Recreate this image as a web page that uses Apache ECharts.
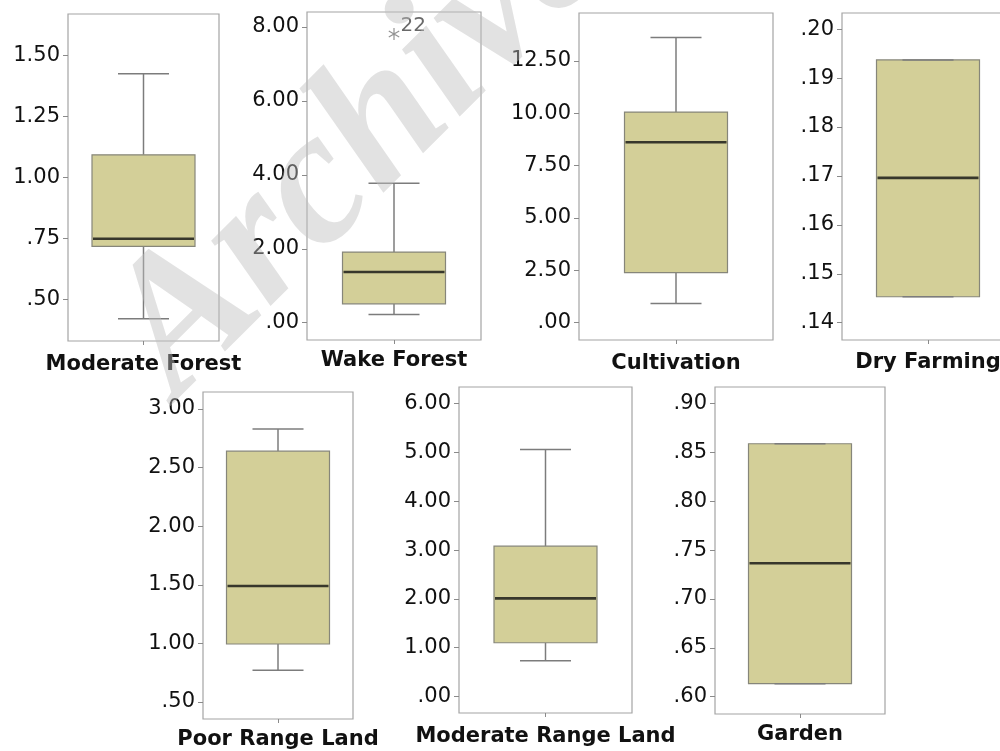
<!DOCTYPE html>
<html><head><meta charset="utf-8">
<script src="https://cdn.jsdelivr.net/npm/echarts@6/dist/echarts.min.js"></script>
<style>html,body{margin:0;padding:0;background:#fff}#c{width:1000px;height:751px}</style>
</head><body><div id="c"></div>
<script>
// ---- data ----
const categories   = ['Moderate Forest', 'Wake Forest', 'Cultivation', 'Dry Farming', 'Poor Range Land', 'Moderate Range Land', 'Garden'];
const whiskerLow   = [0.42, 0.22, 0.91, 0.1453, 0.77, 0.73, 0.6133];
const quartile1    = [0.717, 0.51, 2.39, 0.1453, 0.995, 1.10, 0.6133];
const medians      = [0.748, 1.37, 8.61, 0.1696, 1.49, 2.01, 0.7367];
const quartile3    = [1.092, 1.91, 10.05, 0.1937, 2.64, 3.08, 0.859];
const whiskerHigh  = [1.424, 3.77, 13.61, 0.1937, 2.83, 5.06, 0.859];
const outlierPanel = [1];
const outlierValue = [7.81];
const outlierLabel = ['22'];
const tickValues = [
  [0.50, 0.75, 1.00, 1.25, 1.50],
  [0, 2, 4, 6, 8],
  [0, 2.5, 5, 7.5, 10, 12.5],
  [0.14, 0.15, 0.16, 0.17, 0.18, 0.19, 0.20],
  [0.5, 1.0, 1.5, 2.0, 2.5, 3.0],
  [0, 1, 2, 3, 4, 5, 6],
  [0.60, 0.65, 0.70, 0.75, 0.80, 0.85, 0.90]
];
const axisMin = [0.329, -0.468, -0.826, 0.13646, 0.355, -0.340, 0.5823];
const axisMax = [1.669, 8.406, 14.78, 0.2033, 3.145, 6.342, 0.9171];

// ---- layout & style ----
const panels = [
  {left: 68,  top: 14,  width: 151, height: 327},
  {left: 307, top: 12,  width: 174, height: 328},
  {left: 579, top: 13,  width: 194, height: 327},
  {left: 842, top: 13,  width: 172, height: 327},
  {left: 203, top: 392, width: 150, height: 327},
  {left: 459, top: 387, width: 173, height: 326},
  {left: 715, top: 387, width: 170, height: 327}
];
const labelMargins = [13, 10, 13, 12, 10, 13, 10];
const BOX_W = 103, CAP_W = 51;
const BOX_FILL = '#d3cf98', BOX_STROKE = '#86867a', WHISKER = '#7c7c7c', MEDIAN = '#37372b';
const FRAME = '#a4a4a4', TICK = '#8a8a8a';

function fmt(v) {
  let s = Number(v).toFixed(2);
  if (s.startsWith('0.')) s = s.slice(1);
  return s;
}

function renderBox(params, api) {
  const c = api.value(0);
  const p = k => api.coord([c, api.value(k)]);
  const lo = p(1), b = p(2), m = p(3), t = p(4), hi = p(5);
  const cx = lo[0], hw = BOX_W / 2, cw = CAP_W / 2;
  const ws = {stroke: WHISKER, lineWidth: 1.5};
  return {type: 'group', children: [
    {type: 'line', shape: {x1: cx, y1: t[1], x2: cx, y2: hi[1]}, style: ws},
    {type: 'line', shape: {x1: cx, y1: b[1], x2: cx, y2: lo[1]}, style: ws},
    {type: 'rect', shape: {x: cx - hw, y: t[1], width: BOX_W, height: b[1] - t[1]},
      style: {fill: BOX_FILL, stroke: BOX_STROKE, lineWidth: 1.2}},
    {type: 'line', shape: {x1: cx - cw, y1: hi[1], x2: cx + cw, y2: hi[1]}, style: ws},
    {type: 'line', shape: {x1: cx - cw, y1: lo[1], x2: cx + cw, y2: lo[1]}, style: ws},
    {type: 'line', shape: {x1: cx - hw + 1, y1: m[1], x2: cx + hw - 1, y2: m[1]}, style: {stroke: MEDIAN, lineWidth: 2.6}}
  ]};
}

const grids = [], xAxes = [], yAxes = [], series = [];
categories.forEach((name, i) => {
  grids.push(Object.assign({show: true, borderColor: FRAME, borderWidth: 1.2, backgroundColor: '#fff',
    containLabel: false, outerBoundsMode: 'none'}, panels[i]));
  xAxes.push({gridIndex: i, type: 'category', data: [name], position: 'bottom',
    axisLine: {show: false, onZero: false},
    axisTick: {show: true, alignWithLabel: true, length: 4, lineStyle: {color: TICK}},
    axisLabel: {fontFamily: 'DejaVu Sans', fontWeight: 'bold', fontSize: 21, color: '#111', margin: labelMargins[i]}});
  yAxes.push({gridIndex: i, type: 'value', min: axisMin[i], max: axisMax[i], scale: true,
    splitLine: {show: false}, axisLine: {show: false, onZero: false},
    axisTick: {show: true, length: 5, lineStyle: {color: TICK}, customValues: tickValues[i]},
    axisLabel: {customValues: tickValues[i], formatter: fmt, fontFamily: 'DejaVu Sans', fontSize: 21, color: '#111', margin: 8}});
  series.push({type: 'custom', xAxisIndex: i, yAxisIndex: i, renderItem: renderBox,
    encode: {x: 0, y: [1, 2, 3, 4, 5]},
    data: [[0, whiskerLow[i], quartile1[i], medians[i], quartile3[i], whiskerHigh[i]]], z: 3});
});

const starPath = 'path://M-1 -10L1 -10L1 10L-1 10Z M8.16 -5.87L9.16 -4.13L-8.16 5.87L-9.16 4.13Z M-9.16 -4.13L-8.16 -5.87L9.16 4.13L8.16 5.87Z';
outlierPanel.forEach((pi, k) => {
  series.push({type: 'scatter', xAxisIndex: pi, yAxisIndex: pi, data: [[0, outlierValue[k]]],
    symbol: starPath, symbolSize: [11, 12], itemStyle: {color: '#777'}, z: 4,
    label: {show: true, formatter: outlierLabel[k], position: 'right', distance: 1, offset: [0, -8],
      fontFamily: 'DejaVu Sans', fontSize: 20, color: '#444'}});
});

const chart = echarts.init(document.getElementById('c'), null, {renderer: 'canvas'});
chart.setOption({
  animation: false,
  backgroundColor: '#fff',
  grid: grids, xAxis: xAxes, yAxis: yAxes, series: series,
  graphic: [{
    type: 'text', x: 210, y: 432, rotation: 45 * Math.PI / 180, z: 100, silent: true,
    style: {text: 'Archive', font: 'italic bold 192px "Liberation Serif"', fill: 'rgba(190,190,190,0.45)',
      textVerticalAlign: 'bottom'}
  }]
});
</script></body></html>
